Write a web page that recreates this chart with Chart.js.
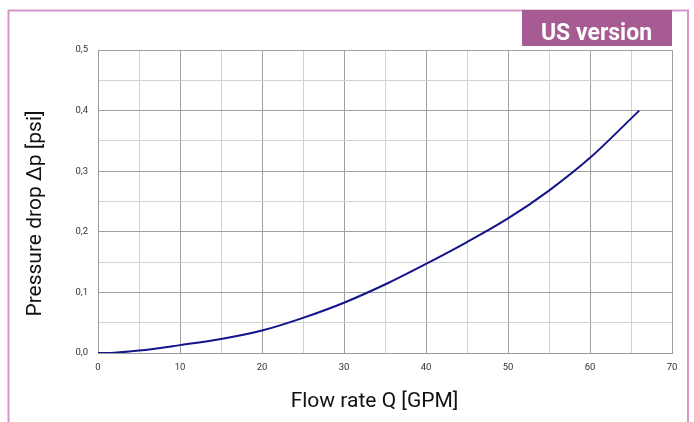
<!DOCTYPE html>
<html>
<head>
<meta charset="utf-8">
<script src="https://cdn.jsdelivr.net/npm/chart.js@4.4.1/dist/chart.umd.min.js"></script>
<style>
html,body{margin:0;padding:0;background:#fff;}
#wrap{position:relative;width:694px;height:422px;}
</style>
</head>
<body>
<div id="wrap"><canvas id="c" width="694" height="422"></canvas></div>
<script>
// Data
const flowGPM = [0, 2, 5, 10, 15, 20, 25, 30, 35, 40, 45, 50, 55, 60, 66];
const pressurePsi = [0, 0.0005, 0.004, 0.013, 0.023, 0.037, 0.058, 0.083, 0.113, 0.147, 0.183, 0.222, 0.268, 0.322, 0.400];
const xTickLabels = ['0', '10', '20', '30', '40', '50', '60', '70'];
const yTickLabels = ['0,0', '0,1', '0,2', '0,3', '0,4', '0,5'];
const xTitle = 'Flow rate Q [GPM]';
const yTitle = 'Pressure drop \u0394p [psi]';
const badgeText = 'US version';

const points = flowGPM.map((x, i) => ({x: x, y: pressurePsi[i]}));

const decor = {
  id: 'decor',
  beforeDraw(chart) {
    const ctx = chart.ctx;
    ctx.save();
    ctx.fillStyle = '#ffffff';
    ctx.fillRect(0, 0, chart.width, chart.height);
    ctx.restore();
  },
  afterDraw(chart) {
    const ctx = chart.ctx;
    ctx.save();
    // frame
    ctx.strokeStyle = '#d896c8';
    ctx.lineWidth = 2;
    ctx.beginPath();
    ctx.moveTo(8.5, 422);
    ctx.lineTo(8.5, 10.5);
    ctx.lineTo(688, 10.5);
    ctx.lineTo(688, 422);
    ctx.stroke();
    // badge
    ctx.fillStyle = '#a65b93';
    ctx.fillRect(522, 10, 150, 36);
    ctx.fillStyle = '#ffffff';
    ctx.font = 'bold 23px Roboto';
    ctx.textAlign = 'center';
    ctx.textBaseline = 'alphabetic';
    ctx.fillText(badgeText, 596.5, 39.5);
    // axis titles
    ctx.fillStyle = '#111111';
    ctx.font = '21px Roboto';
    ctx.textAlign = 'center';
    ctx.textBaseline = 'alphabetic';
    ctx.fillText(xTitle, 374.5, 407);
    ctx.translate(40.5, 213.5);
    ctx.rotate(-Math.PI / 2);
    ctx.fillText(yTitle, 0, 0);
    ctx.restore();
  }
};

const majorX = v => Math.abs(v % 10) < 1e-6;
const majorY = v => Math.abs(Math.round(v * 100) % 10) < 1e-6;

new Chart(document.getElementById('c'), {
  type: 'line',
  data: {
    datasets: [{
      data: points,
      borderColor: '#14148a',
      borderWidth: 2,
      pointRadius: 0,
      fill: false,
      cubicInterpolationMode: 'monotone'
    }]
  },
  options: {
    responsive: false,
    animation: false,
    events: [],
    layout: {padding: {left: 0, top: 50, right: 22, bottom: 0}},
    plugins: {legend: {display: false}, tooltip: {enabled: false}},
    scales: {
      x: {
        type: 'linear',
        min: 0, max: 70,
        afterFit(s) { s.height = 69; },
        border: {display: true, color: '#9a9a9a', width: 1},
        grid: {
          drawTicks: false,
          color: ctx => majorX(ctx.tick.value) ? '#a0a0a0' : '#d2d2d2',
          lineWidth: 1
        },
        ticks: {
          stepSize: 5,
          autoSkip: false,
          maxRotation: 0,
          padding: 9,
          color: '#333333',
          font: {family: 'Roboto', size: 9.5},
          callback: v => majorX(v) ? xTickLabels[Math.round(v / 10)] : ''
        }
      },
      y: {
        type: 'linear',
        min: 0, max: 0.5,
        afterFit(s) { s.width = 98; },
        border: {display: true, color: '#9a9a9a', width: 1},
        grid: {
          drawTicks: false,
          color: ctx => majorY(ctx.tick.value) ? '#a0a0a0' : '#d2d2d2',
          lineWidth: 1
        },
        ticks: {
          stepSize: 0.05,
          autoSkip: false,
          padding: 10,
          color: '#333333',
          font: {family: 'Roboto', size: 9.5},
          callback: v => majorY(v) ? yTickLabels[Math.round(v * 10)] : ''
        }
      }
    }
  },
  plugins: [decor]
});
</script>
</body>
</html>
